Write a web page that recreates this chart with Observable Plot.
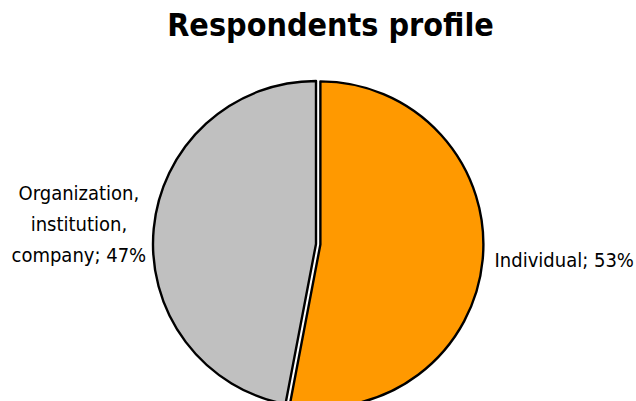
<!DOCTYPE html>
<html>
<head>
<meta charset="utf-8">
<script src="https://cdn.jsdelivr.net/npm/d3@7"></script>
<script src="https://cdn.jsdelivr.net/npm/@observablehq/plot@0.6"></script>
<style>
  html, body { margin: 0; padding: 0; background: #fff; overflow: hidden; }
  svg { display: block; }
</style>
</head>
<body>
<div id="chart"></div>
<script>
// ---- data ----
const title = "Respondents profile";
const categories = ["Individual", "Organization,\ninstitution,\ncompany"];
const values = [53, 47];
const colors = ["#FF9900", "#C0C0C0"];
const explode = [0.027, 0]; // fraction of radius each slice is pulled out

// ---- layout ----
const W = 636, H = 401;
const CX = 316, CY = 244, R = 163;   // pie centre & radius in pixels
const LABEL_R = 1.07;                // label distance (in radii)
const FONT = "'DejaVu Sans Condensed', 'DejaVu Sans', sans-serif";

const rows = categories.map((c, i) => ({
  i, category: c, value: values[i], color: colors[i], explode: explode[i],
  label: `${c}; ${values[i]}%`
}));
const arcs = d3.pie().value(d => d.value).sort(null)(rows);
const mid = a => (a.startAngle + a.endAngle) / 2;

const labelX = d => { const m = mid(arcs[d.i]); return (LABEL_R + d.explode) * Math.sin(m); };
const labelY = d => { const m = mid(arcs[d.i]); return (LABEL_R + d.explode) * Math.cos(m); };
const isRight = d => Math.sin(mid(arcs[d.i])) >= 0;

function pieMark(index, scales) {
  const {x, y} = scales;
  const r = x(1) - x(0);
  const arc = d3.arc().innerRadius(0).outerRadius(r);
  const g = d3.create("svg:g");
  g.selectAll("path").data(arcs).join("path")
    .attr("d", arc)
    .attr("transform", a => {
      const m = mid(a), e = a.data.explode;
      return `translate(${x(e * Math.sin(m))},${y(e * Math.cos(m))})`;
    })
    .attr("fill", a => a.data.color)
    .attr("stroke", "#000")
    .attr("stroke-width", 2.4)
    .attr("stroke-linejoin", "round");
  return g.node();
}

const chart = Plot.plot({
  width: W, height: H,
  marginTop: 0, marginRight: 0, marginBottom: 0, marginLeft: 0,
  x: {domain: [-CX / R, (W - CX) / R], axis: null},
  y: {domain: [-(H - CY) / R, CY / R], axis: null},
  style: {fontFamily: FONT, background: "#fff", color: "#000", overflow: "hidden"},
  marks: [
    pieMark,
    Plot.text(rows, {
      filter: isRight, x: labelX, y: labelY, text: "label",
      textAnchor: "start", fontSize: 20, dy: -1, fill: "#000"
    }),
    Plot.text(rows, {
      filter: d => !isRight(d), x: labelX, y: labelY, text: "label",
      textAnchor: "middle", dx: -64, dy: -7, lineHeight: 1.55, fontSize: 20, fill: "#000"
    }),
    Plot.text([title], {
      frameAnchor: "top", text: d => d, lineAnchor: "top",
      dy: 13, dx: 12, fontSize: 32, fontWeight: "bold", fill: "#000"
    })
  ]
});
document.getElementById("chart").appendChild(chart);
</script>
</body>
</html>
